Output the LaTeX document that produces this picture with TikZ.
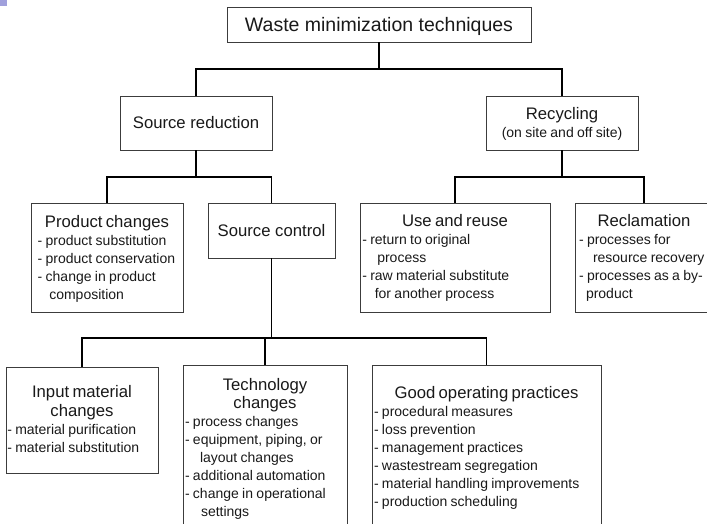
\documentclass[tikz,border=0pt]{standalone}
\usepackage{fontspec}
\setmainfont{Liberation Sans}
\definecolor{boxline}{RGB}{60,60,60}
\definecolor{inktext}{RGB}{25,25,25}
\definecolor{cornermark}{RGB}{160,160,220}
\newcommand\ttlfont{\fontsize{16.7}{18.5}\selectfont}
\newcommand\lstfont{\fontsize{14}{18}\selectfont}
\newcommand\ttl[1]{{\centering\ttlfont\strut #1\par}}
\newcommand\li[1]{\mbox{#1}\par}
\tikzset{
  box/.style={draw=boxline, line width=0.9pt, inner sep=0pt, outer sep=0pt,
    anchor=north west, text=inktext},
  conn/.style={draw=black, line width=1.2pt},
  txt/.style={inner sep=0pt, outer sep=0pt, anchor=north, align=left,
    text=inktext, execute at begin node={\parindent=0pt}},
}
\begin{document}
\begin{tikzpicture}[x=1pt,y=-1pt]
\useasboundingbox (0,0) rectangle (707,523);
\clip (0,0) rectangle (707,523);
\fill[cornermark] (0,0) rectangle (7,6);

% boxes
\node[box, minimum width=304pt, minimum height=35pt, text depth=0pt,
  font=\fontsize{19.5}{22}\selectfont] (top) at (227,7) {Waste minimization techniques};
\node[box, minimum width=152pt, minimum height=54pt, font=\ttlfont] (srcred) at (120,96) {Source reduction};
\node[box, minimum width=152pt, minimum height=54pt] (recyc) at (486,96) {};
\node[box, minimum width=152pt, minimum height=109pt] (prod) at (31,203) {};
\node[box, minimum width=127pt, minimum height=55pt, font=\ttlfont] (srcctl) at (208,203) {Source control};
\node[box, minimum width=190pt, minimum height=109pt] (use) at (360,203) {};
\node[box, minimum width=138pt, minimum height=109pt] (recl) at (575,203) {};
\node[box, minimum width=152pt, minimum height=106pt] (input) at (6,367) {};
\node[box, minimum width=164pt, minimum height=180pt] (tech) at (183,365) {};
\node[box, minimum width=229pt, minimum height=180pt] (good) at (372,365) {};

% texts
\node[txt, text width=148pt] (recyctxt) at ([yshift=-10.05pt]recyc.north)
  {\ttl{Recycling}{\centering\lstfont (on site and off site)\par}};
\node[txt, text width=138.6pt] (prodtxt) at ([yshift=-11.35pt]prod.north)
  {\ttl{Product changes}\lstfont
   \li{- product substitution}\li{- product conservation}
   \li{- change in product}\li{\hspace*{11.6pt}composition}};
\node[txt, text width=185.4pt] (usetxt) at ([yshift=-11pt]use.north)
  {\ttl{Use and reuse}\lstfont
   \li{- return to original}\li{\hspace*{15pt}process}
   \li{- raw material substitute}\li{\hspace*{12.5pt}for another process}};
\node[txt, text width=130pt] (recltxt) at ([yshift=-11pt]recl.north)
  {\ttl{Reclamation}\lstfont
   \li{- processes for}\li{\hspace*{14pt}resource recovery}
   \li{- processes as a by-}\li{\hspace*{7pt}product}};
\node[txt, text width=149.4pt] (inputtxt) at ([yshift=-17.75pt]input.north)
  {\ttl{Input material\\changes}\lstfont
   \li{- material purification}\li{- material substitution}};
\node[txt, text width=160pt] (techtxt) at ([yshift=-12.05pt]tech.north)
  {\ttl{Technology\\changes}\lstfont
   \li{- process changes}\li{- equipment, piping, or}
   \li{\hspace*{15pt}layout changes}\li{- additional automation}
   \li{- change in operational}\li{\hspace*{16pt}settings}};
\node[txt, text width=225pt] (goodtxt) at ([yshift=-20.35pt]good.north)
  {\ttl{Good operating practices}\lstfont
   \li{- procedural measures}\li{- loss prevention}
   \li{- management practices}\li{- wastestream segregation}
   \li{- material handling improvements}\li{- production scheduling}};

% bus levels
\coordinate (bus1) at (0,69);
\coordinate (bus2) at (0,177);
\coordinate (bus3) at (0,338);

% connectors
\draw[conn] (top.south) -- (top.south |- bus1) -| (srcred.north);
\draw[conn] (top.south |- bus1) -| (recyc.north);
\draw[conn] (srcred.south) -- (srcred.south |- bus2) -| (prod.north);
\draw[conn] (srcred.south |- bus2) -| (srcctl.north);
\draw[conn] (recyc.south) -- (recyc.south |- bus2) -| (use.north);
\draw[conn] (recyc.south |- bus2) -| (recl.north);
\draw[conn] (srcctl.south) -- (srcctl.south |- bus3) -| (input.north);
\draw[conn] (srcctl.south |- bus3) -| (tech.north);
\draw[conn] (srcctl.south |- bus3) -| (good.north);
\end{tikzpicture}
\end{document}
